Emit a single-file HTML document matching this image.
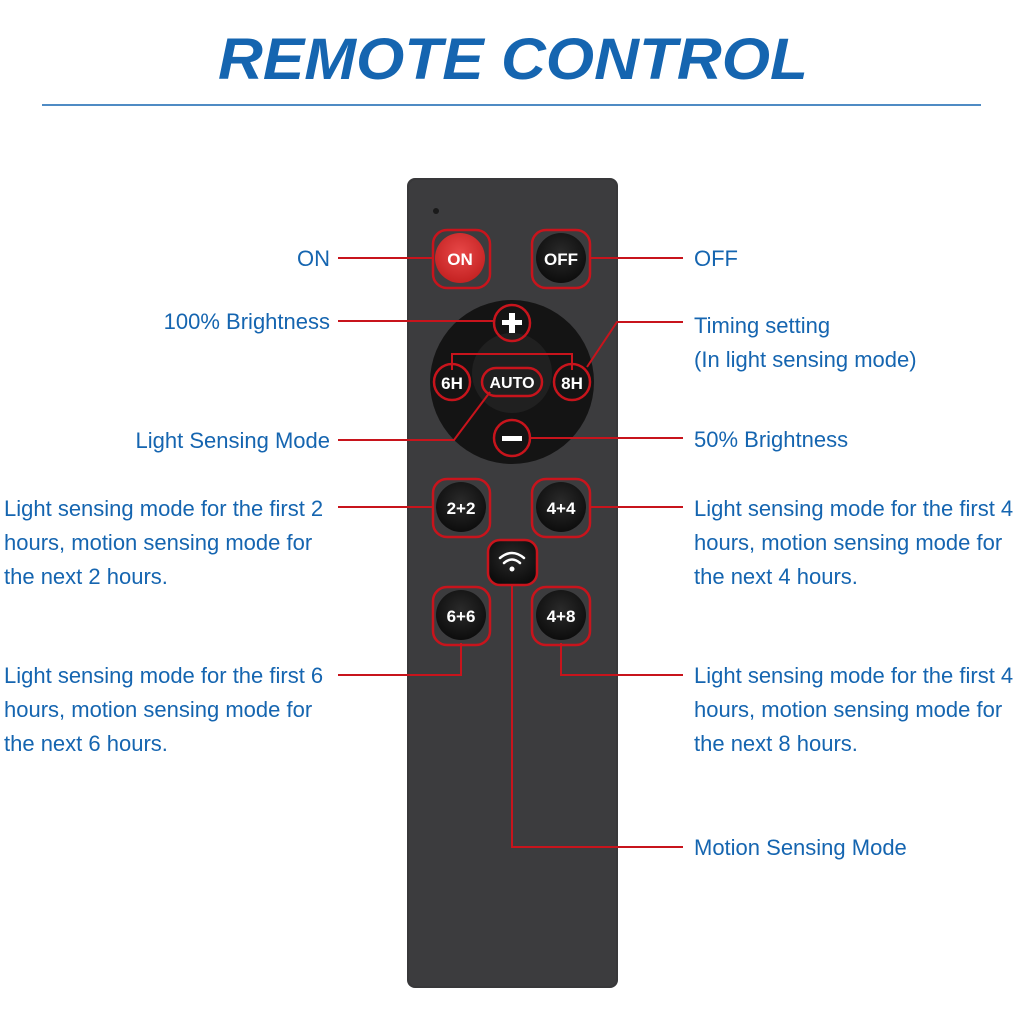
<!DOCTYPE html>
<html><head><meta charset="utf-8"><style>
body{margin:0;background:#fff;width:1024px;height:1024px;overflow:hidden;font-family:"Liberation Sans",sans-serif}
</style></head><body>
<svg width="1024" height="1024" viewBox="0 0 1024 1024" xmlns="http://www.w3.org/2000/svg" font-family="Liberation Sans, sans-serif">
<defs>
<radialGradient id="btn" cx="50%" cy="40%" r="60%"><stop offset="0" stop-color="#2a2a2a"/><stop offset="1" stop-color="#0d0d0d"/></radialGradient>
<radialGradient id="on" cx="50%" cy="40%" r="60%"><stop offset="0" stop-color="#e84848"/><stop offset="1" stop-color="#c42222"/></radialGradient>
</defs>
<text x="218" y="79" font-size="58" font-weight="bold" font-style="italic" fill="#1565b0" textLength="590" lengthAdjust="spacingAndGlyphs">REMOTE CONTROL</text>
<line x1="42" y1="105" x2="981" y2="105" stroke="#1565b0" stroke-width="1.5"/>
<rect x="407" y="178" width="211" height="810" rx="8" fill="#38383a"/>
<rect x="409" y="180" width="207" height="806" rx="7" fill="#3c3c3e"/>
<circle cx="436" cy="211" r="3" fill="#1a1a1a"/>
<circle cx="512" cy="382" r="82" fill="#141414"/>
<circle cx="512" cy="373" r="40" fill="#202020"/>
<g stroke="#c8141c" stroke-width="2" fill="none">
<line x1="338" y1="258" x2="433" y2="258"/>
<line x1="590" y1="258" x2="683" y2="258"/>
<line x1="338" y1="321" x2="494" y2="321"/>
<polyline points="587,367 617,322 683,322"/>
<polyline points="452,370 452,354 572,354 572,370"/>
<polyline points="490,392 454,440 338,440"/>
<line x1="530" y1="438" x2="683" y2="438"/>
<line x1="338" y1="507" x2="433" y2="507"/>
<line x1="590" y1="507" x2="683" y2="507"/>
<polyline points="461,643 461,675 338,675"/>
<polyline points="561,643 561,675 683,675"/>
<polyline points="512,586 512,847 683,847"/>
</g>
<circle cx="460" cy="258" r="25" fill="url(#on)"/>
<circle cx="561" cy="258" r="25" fill="url(#btn)"/>
<circle cx="461" cy="507" r="25" fill="url(#btn)"/>
<circle cx="561" cy="507" r="25" fill="url(#btn)"/>
<circle cx="461" cy="615" r="25" fill="url(#btn)"/>
<circle cx="561" cy="615" r="25" fill="url(#btn)"/>
<rect x="488" y="540" width="49" height="45" rx="12" fill="url(#btn)"/>
<g stroke="#c8141c" stroke-width="2.5" fill="none">
<rect x="433" y="230" width="57" height="58" rx="14"/>
<rect x="532" y="230" width="58" height="58" rx="14"/>
<rect x="433" y="479" width="57" height="58" rx="14"/>
<rect x="532" y="479" width="58" height="58" rx="14"/>
<rect x="433" y="587" width="57" height="58" rx="14"/>
<rect x="532" y="587" width="58" height="58" rx="14"/>
<rect x="488" y="540" width="49" height="45" rx="12"/>
<circle cx="512" cy="323" r="18"/>
<circle cx="512" cy="438" r="18"/>
<circle cx="452" cy="382" r="18"/>
<circle cx="572" cy="382" r="18"/>
<rect x="482" y="368" width="60" height="28" rx="14"/>
</g>
<g fill="#fff" font-weight="bold" text-anchor="middle">
<text x="460" y="265" font-size="17">ON</text>
<text x="561" y="265" font-size="17">OFF</text>
<text x="452" y="389" font-size="17">6H</text>
<text x="572" y="389" font-size="17">8H</text>
<text x="512" y="388" font-size="16">AUTO</text>
<text x="461" y="514" font-size="17">2+2</text>
<text x="561" y="514" font-size="17">4+4</text>
<text x="461" y="622" font-size="17">6+6</text>
<text x="561" y="622" font-size="17">4+8</text>
</g>
<rect x="502" y="320" width="20" height="5" fill="#fff"/><rect x="509" y="313" width="6" height="20" fill="#fff"/>
<rect x="502" y="436" width="20" height="5" fill="#fff"/>
<g stroke="#fff" stroke-width="2.5" fill="none" stroke-linecap="round">
<path d="M500,558 Q512,548 524,558"/><path d="M504,563 Q512,556 520,563"/>
</g>
<circle cx="512" cy="569" r="2.5" fill="#fff"/>
<g fill="#1565b0" font-size="22">
<text x="330" y="266" text-anchor="end">ON</text>
<text x="330" y="329" text-anchor="end">100% Brightness</text>
<text x="330" y="448" text-anchor="end">Light Sensing Mode</text>
<text x="4" y="516">Light sensing mode for the first 2</text>
<text x="4" y="550">hours, motion sensing mode for</text>
<text x="4" y="584">the next 2 hours.</text>
<text x="4" y="683">Light sensing mode for the first 6</text>
<text x="4" y="717">hours, motion sensing mode for</text>
<text x="4" y="751">the next 6 hours.</text>
<text x="694" y="266">OFF</text>
<text x="694" y="333">Timing setting</text>
<text x="694" y="367">(In light sensing mode)</text>
<text x="694" y="447">50% Brightness</text>
<text x="694" y="516">Light sensing mode for the first 4</text>
<text x="694" y="550">hours, motion sensing mode for</text>
<text x="694" y="584">the next 4 hours.</text>
<text x="694" y="683">Light sensing mode for the first 4</text>
<text x="694" y="717">hours, motion sensing mode for</text>
<text x="694" y="751">the next 8 hours.</text>
<text x="694" y="855">Motion Sensing Mode</text>
</g>
</svg>
</body></html>
